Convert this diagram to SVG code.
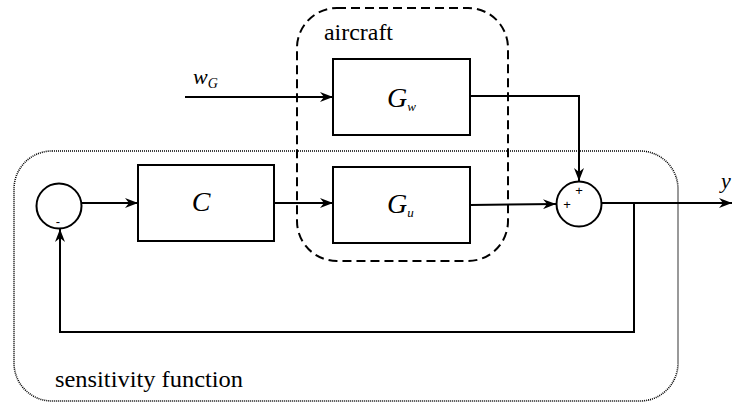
<svg xmlns="http://www.w3.org/2000/svg" width="732" height="410" viewBox="0 0 732 410">
<style>
.blk{fill:#fff;stroke:#000;stroke-width:2}
.ln{fill:none;stroke:#000;stroke-width:2}
.srf{font-family:'Liberation Serif','DejaVu Serif','Noto Serif',serif}
.it{font-style:italic}
.sgn{font-family:'Liberation Sans','DejaVu Sans',sans-serif;font-size:13px;text-anchor:middle}
</style>
<defs>
<marker id="ar" markerWidth="14" markerHeight="10" refX="13" refY="5" orient="auto" markerUnits="userSpaceOnUse">
<path d="M0,0 L13,5 L0,10 L4,5 Z" fill="#000"/>
</marker>
</defs>
<g id="sensitivity">
<rect x="14" y="151" width="664" height="250" rx="38" ry="38" fill="none" stroke="#000" stroke-width="1.6" stroke-dasharray="1,1"/>
<text class="srf" x="55" y="387" font-size="24" textLength="188" lengthAdjust="spacingAndGlyphs">sensitivity function</text>
</g>
<g id="aircraft">
<rect x="297" y="8" width="211" height="253" rx="40" ry="40" fill="none" stroke="#000" stroke-width="2" stroke-dasharray="9,5"/>
<text class="srf" x="324" y="40" font-size="24" textLength="69" lengthAdjust="spacingAndGlyphs">aircraft</text>
</g>
<g id="connectors">
<path class="ln" d="M82,203 H138" marker-end="url(#ar)"/>
<path class="ln" d="M274,203 H333" marker-end="url(#ar)"/>
<path class="ln" d="M185,97 H333" marker-end="url(#ar)"/>
<path class="ln" d="M470,96 H579 V181" marker-end="url(#ar)"/>
<path class="ln" d="M470,205 L556,204" marker-end="url(#ar)"/>
<path class="ln" d="M602,203 H732" marker-end="url(#ar)"/>
<path class="ln" d="M634,203 V332 H60 V229" marker-end="url(#ar)"/>
</g>
<g id="sum1">
<circle class="blk" cx="59" cy="206" r="22.5"/>
<text class="sgn" x="58" y="226">-</text>
</g>
<g id="C">
<rect class="blk" x="138" y="165" width="136" height="76"/>
<text class="srf it" x="201" y="211" font-size="28" text-anchor="middle">C</text>
</g>
<g id="Gw">
<rect class="blk" x="333" y="59" width="137" height="76"/>
<text class="srf it" x="387" y="107" font-size="28">G<tspan font-size="13" dy="4">w</tspan></text>
</g>
<g id="Gu">
<rect class="blk" x="333" y="167" width="137" height="76"/>
<text class="srf it" x="387" y="213" font-size="28">G<tspan font-size="13" dy="4">u</tspan></text>
</g>
<g id="sum2">
<circle class="blk" cx="579" cy="204" r="22.5"/>
<text class="sgn" x="579" y="195">+</text>
<text class="sgn" x="567" y="209">+</text>
</g>
<g id="wG">
<text class="srf it" x="193" y="84" font-size="22">w<tspan font-size="14" dy="4">G</tspan></text>
</g>
<g id="y">
<text class="srf it" x="721" y="188" font-size="22">y</text>
</g>
</svg>
